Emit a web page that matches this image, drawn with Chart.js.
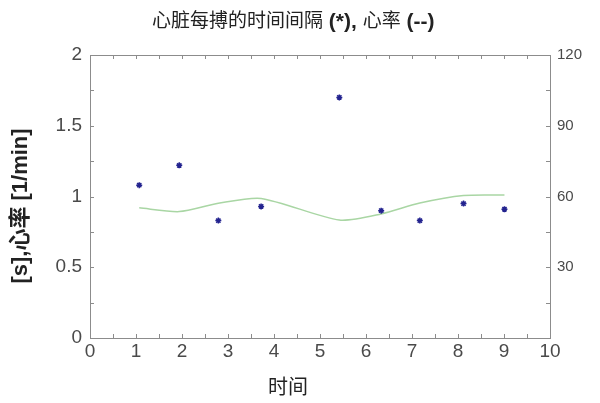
<!DOCTYPE html>
<html lang="zh">
<head>
  <meta charset="UTF-8">
  <title>心脏每搏的时间间隔</title>
  <script src="https://cdn.jsdelivr.net/npm/chart.js"></script>
  <style>
    body { margin: 0; padding: 0; background: #fff; }
    #wrap { width: 600px; height: 403px; position: relative; }
  </style>
</head>
<body>
  <div id="wrap"><canvas id="chart"></canvas></div>
  <script>
    // beat times [s] and the interval of each beat [s]
    const beatTimes = [1.07, 1.94, 2.79, 3.72, 5.42, 6.33, 7.17, 8.12, 9.01];
    const beatIntervals = [1.08, 1.22, 0.83, 0.93, 1.70, 0.90, 0.83, 0.95, 0.91];
    // heart rate [1/min] at the same times
    const heartRate = [55.2, 53.6, 57.1, 59.2, 50.0, 52.6, 57.2, 60.4, 60.6];

    const FONT = '"Liberation Sans", Arial, "Noto Sans CJK SC", sans-serif';
    const TICK_COLOR = '#4a4a4a';
    const FRAME_COLOR = '#8c8c8c';

    // box + inside minor ticks + titles
    const framePlugin = {
      id: 'frame',
      afterDraw(chart) {
        const ctx = chart.ctx;
        const a = chart.chartArea;
        const x = chart.scales.x, y = chart.scales.y;
        ctx.save();
        ctx.strokeStyle = FRAME_COLOR;
        ctx.lineWidth = 1;
        ctx.strokeRect(a.left + 0.5, a.top + 0.5, a.right - a.left, a.bottom - a.top);
        const len = 4;
        ctx.beginPath();
        for (let v = 0.5; v < 10; v += 0.5) {
          const px = Math.round(x.getPixelForValue(v)) + 0.5;
          ctx.moveTo(px, a.bottom); ctx.lineTo(px, a.bottom - len);
          ctx.moveTo(px, a.top); ctx.lineTo(px, a.top + len);
        }
        for (let v = 0.25; v < 2; v += 0.25) {
          const py = Math.round(y.getPixelForValue(v)) + 0.5;
          ctx.moveTo(a.left, py); ctx.lineTo(a.left + len, py);
          ctx.moveTo(a.right, py); ctx.lineTo(a.right - len, py);
        }
        ctx.stroke();

        // main title, CJK plain and the markers in bold
        const parts = [
          ['心脏每搏的时间间隔', 'normal 19px'],
          [' (*), ', 'bold 21px'],
          ['心率', 'normal 19px'],
          [' (--)', 'bold 21px']
        ];
        ctx.fillStyle = '#222';
        ctx.textBaseline = 'middle';
        let cx = 152;
        parts.forEach(p => {
          ctx.font = p[1] + ' ' + FONT;
          ctx.fillText(p[0], cx, 22);
          cx += ctx.measureText(p[0]).width;
        });

        // x title
        ctx.font = 'normal 20px ' + FONT;
        ctx.textAlign = 'center';
        ctx.fillText('时间', 288, 388);

        // y title
        ctx.translate(21, 206);
        ctx.rotate(-Math.PI / 2);
        ctx.font = 'bold 22px ' + FONT;
        ctx.fillText('[s],心率 [1/min]', 0, 0);
        ctx.restore();
      }
    };

    new Chart(document.getElementById('chart'), {
      type: 'scatter',
      data: {
        datasets: [
          {
            label: '心脏每搏的时间间隔',
            data: beatTimes.map((t, i) => ({ x: t, y: beatIntervals[i] })),
            yAxisID: 'y',
            pointStyle: 'star',
            pointRadius: 3,
            borderWidth: 1.5,
            borderColor: '#23238f',
            backgroundColor: '#23238f',
            order: 1
          },
          {
            label: '心率',
            data: beatTimes.map((t, i) => ({ x: t, y: heartRate[i] })),
            yAxisID: 'y2',
            showLine: true,
            tension: 0.25,
            pointRadius: 0,
            borderWidth: 1.5,
            borderColor: '#a9d6a4',
            order: 2
          }
        ]
      },
      options: {
        responsive: true,
        maintainAspectRatio: false,
        animation: false,
        layout: { padding: { top: 55, left: 0, right: 0, bottom: 0 } },
        plugins: {
          legend: { display: false },
          tooltip: { enabled: false }
        },
        scales: {
          x: {
            type: 'linear',
            min: 0,
            max: 10,
            afterFit: s => { s.height = 65; },
            grid: { display: false, drawTicks: false },
            border: { display: false },
            ticks: {
              stepSize: 1,
              padding: 2,
              color: TICK_COLOR,
              font: { family: FONT, size: 19 }
            }
          },
          y: {
            position: 'left',
            min: 0,
            max: 2,
            afterFit: s => { s.width = 90; },
            grid: { display: false, drawTicks: false },
            border: { display: false },
            ticks: {
              stepSize: 0.5,
              padding: 8,
              color: TICK_COLOR,
              font: { family: FONT, size: 19 },
              callback: v => String(v)
            }
          },
          y2: {
            position: 'right',
            min: 0,
            max: 120,
            afterFit: s => { s.width = 50; },
            grid: { display: false, drawTicks: false },
            border: { display: false },
            ticks: {
              stepSize: 30,
              padding: 7,
              color: TICK_COLOR,
              font: { family: FONT, size: 15 },
              callback: v => (v === 0 ? '' : v)
            }
          }
        }
      },
      plugins: [framePlugin]
    });
  </script>
</body>
</html>
